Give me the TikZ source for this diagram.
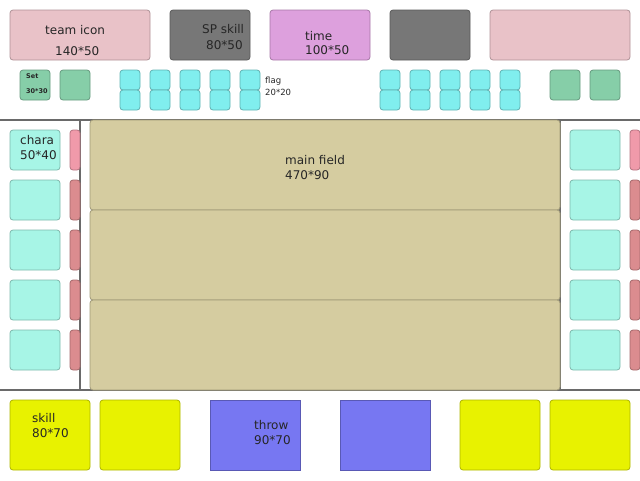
\documentclass[tikz,border=0pt]{standalone}
\usepackage{fontspec}
\setmainfont{DejaVu Sans}
\definecolor{teampink}{HTML}{E9C2C8}
\definecolor{spgray}{HTML}{777777}
\definecolor{timeplum}{HTML}{DDA0DD}
\definecolor{setgreen}{HTML}{86CEA8}
\definecolor{flagcyan}{HTML}{80EEEE}
\definecolor{characol}{HTML}{A7F5E6}
\definecolor{barpinkA}{HTML}{F09AAA}
\definecolor{barpinkB}{HTML}{DB8C8F}
\definecolor{fieldcol}{HTML}{D5CCA0}
\definecolor{skillyellow}{HTML}{E8F200}
\definecolor{throwblue}{HTML}{7777F2}
\definecolor{sepline}{HTML}{6A6A6A}
\tikzset{
  box/.style={anchor=north west, inner sep=0pt, outer sep=0pt, rounded corners=3pt, line width=0.8pt},
  txt/.style={anchor=west, inner sep=0pt, font=\fontsize{12}{14}\selectfont, text=black!85},
  small/.style={anchor=west, inner sep=0pt, font=\fontsize{8.5}{10}\selectfont, text=black!85},
  tiny/.style={anchor=west, inner sep=0pt, font=\bfseries\fontsize{6.5}{8}\selectfont, text=black!85},
}
\newcommand{\bx}[6]{\node[box, fill=#2, draw=#2!75!black, minimum width=#5pt, minimum height=#6pt] (#1) at (#3,#4) {};}
\begin{document}
\begin{tikzpicture}[x=1pt,y=-1pt]
\useasboundingbox (0,0) rectangle (640,480);
% top row
\bx{team}{teampink}{10}{10}{140}{50}
\bx{sp}{spgray}{170}{10}{80}{50}
\bx{time}{timeplum}{270}{10}{100}{50}
\bx{sptwo}{spgray}{390}{10}{80}{50}
\bx{teamtwo}{teampink}{490}{10}{140}{50}
% set boxes
\bx{setA}{setgreen}{20}{70}{30}{30}
\bx{setB}{setgreen}{60}{70}{30}{30}
\bx{setC}{setgreen}{550}{70}{30}{30}
\bx{setD}{setgreen}{590}{70}{30}{30}
% flags
\foreach \x [count=\i] in {120,150,180,210,240,380,410,440,470,500}{
  \bx{flagU\i}{flagcyan}{\x}{70}{20}{20}
  \bx{flagL\i}{flagcyan}{\x}{90}{20}{20}
}
% separators
\coordinate (hlA) at (0,120); \coordinate (hlB) at (640,120);
\coordinate (hlC) at (0,390); \coordinate (hlD) at (640,390);
\coordinate (vlA) at (80,120); \coordinate (vlB) at (80,390);
\coordinate (vlC) at (560,120); \coordinate (vlD) at (560,390);
\draw[sepline, line width=1.5pt] (hlA) -- (hlB);
\draw[sepline, line width=1.5pt] (hlC) -- (hlD);
\draw[sepline, line width=1.5pt] (vlA) -- (vlB);
\draw[sepline, line width=1.5pt] (vlC) -- (vlD);
% main field
\bx{fieldA}{fieldcol}{90}{120}{470}{90}
\bx{fieldB}{fieldcol}{90}{210}{470}{90}
\bx{fieldC}{fieldcol}{90}{300}{470}{90}
% chara and bars
\foreach \y [count=\i] in {130,180,230,280,330}{
  \bx{charaL\i}{characol}{10}{\y}{50}{40}
  \bx{charaR\i}{characol}{570}{\y}{50}{40}
}
\bx{barL1}{barpinkA}{70}{130}{10}{40}
\bx{barR1}{barpinkA}{630}{130}{10}{40}
\foreach \y [count=\i from 2] in {180,230,280,330}{
  \bx{barL\i}{barpinkB}{70}{\y}{10}{40}
  \bx{barR\i}{barpinkB}{630}{\y}{10}{40}
}
% bottom
\bx{skillA}{skillyellow}{10}{400}{80}{70}
\bx{skillB}{skillyellow}{100}{400}{80}{70}
\node[box, rounded corners=0pt, fill=throwblue, draw=throwblue!75!black, minimum width=90pt, minimum height=70pt] (throwA) at (210,400) {};
\node[box, rounded corners=0pt, fill=throwblue, draw=throwblue!75!black, minimum width=90pt, minimum height=70pt] (throwB) at (340,400) {};
\bx{skillC}{skillyellow}{460}{400}{80}{70}
\bx{skillD}{skillyellow}{550}{400}{80}{70}
% texts
\node[txt] (tTeam) at (45,30) {team icon};
\node[txt] (tTeamS) at (55,51) {140*50};
\node[txt] (tSp) at (202,29) {SP skill};
\node[txt] (tSpS) at (206,45) {80*50};
\node[txt] (tTime) at (305,36) {time};
\node[txt] (tTimeS) at (305,50) {100*50};
\node[tiny] (tSet) at (26,76) {Set};
\node[tiny] (tSetS) at (26,91) {30*30};
\node[small] (tFlag) at (265,81) {flag};
\node[small] (tFlagS) at (265,92) {20*20};
\node[txt] (tChara) at (20,140) {chara};
\node[txt] (tCharaS) at (20,155) {50*40};
\node[txt] (tField) at (285,160) {main field};
\node[txt] (tFieldS) at (285,175) {470*90};
\node[txt] (tSkill) at (32,418) {skill};
\node[txt] (tSkillS) at (32,433) {80*70};
\node[txt] (tThrow) at (254,425) {throw};
\node[txt] (tThrowS) at (254,440) {90*70};
\end{tikzpicture}
\end{document}
